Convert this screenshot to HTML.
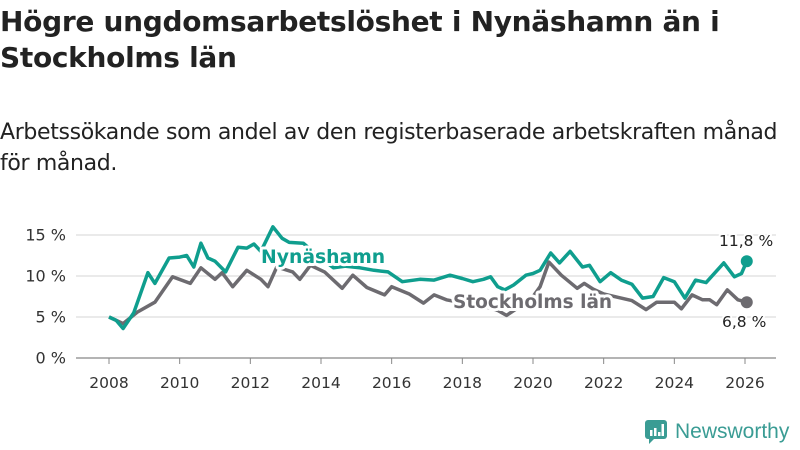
<!DOCTYPE html>
<html><head><meta charset="utf-8"><style>
body{margin:0;width:800px;height:450px;background:#fff;font-family:"DejaVu Sans","Liberation Sans",sans-serif;color:#222;overflow:hidden;position:relative}
h1{position:absolute;left:0;top:4px;margin:0;font-size:28px;line-height:36px;font-weight:bold;letter-spacing:-0.3px;white-space:nowrap}
p{position:absolute;left:0;top:117px;margin:0;font-size:22px;line-height:31px;letter-spacing:-0.35px;white-space:nowrap}
svg{position:absolute;left:0;top:0}
</style></head><body>
<h1>Högre ungdomsarbetslöshet i Nynäshamn än i<br>Stockholms län</h1>
<p>Arbetssökande som andel av den registerbaserade arbetskraften månad<br>för månad.</p>
<svg id="chart" width="800" height="450"></svg>
<div style="position:absolute;left:645px;top:420px;display:flex;align-items:center">
<svg width="22" height="24" style="position:static"><rect x="0" y="0" width="22" height="19" rx="3" fill="#3a9c94"/><path d="M4 19 L4 24 L9 19Z" fill="#3a9c94"/><rect x="5" y="10" width="2.5" height="6" fill="#fff"/><rect x="9" y="8" width="2.5" height="8" fill="#fff"/><rect x="13" y="12" width="2.5" height="4" fill="#fff"/><rect x="16.5" y="4" width="2.5" height="12" fill="#fff"/></svg>
<span style="margin-left:8px;font-size:21px;color:#3a9c94;font-family:'Liberation Sans',sans-serif">Newsworthy</span></div>
<script>
const yTicks=[0,5,10,15];
const xTicks=[2008,2010,2012,2014,2016,2018,2020,2022,2024,2026];
const nynYears=[2008.0,2008.2,2008.4,2008.7,2009.1,2009.3,2009.7,2010.0,2010.2,2010.4,2010.6,2010.8,2011.0,2011.3,2011.65,2011.9,2012.1,2012.3,2012.64,2012.9,2013.1,2013.5,2013.9,2014.35,2014.7,2015.1,2015.5,2015.9,2016.3,2016.8,2017.2,2017.65,2018.0,2018.3,2018.6,2018.8,2019.0,2019.2,2019.45,2019.8,2020.0,2020.2,2020.5,2020.75,2021.05,2021.4,2021.6,2021.9,2022.2,2022.5,2022.8,2023.1,2023.4,2023.7,2024.0,2024.3,2024.6,2024.9,2025.15,2025.4,2025.7,2025.9,2026.05];
const nynValues=[5.0,4.6,3.6,5.5,10.4,9.1,12.2,12.3,12.5,11.1,14.0,12.2,11.8,10.5,13.5,13.4,13.9,13.0,16.0,14.6,14.1,14.0,12.5,11.0,11.2,11.0,10.7,10.5,9.3,9.6,9.5,10.1,9.7,9.3,9.6,9.9,8.7,8.3,8.9,10.1,10.3,10.7,12.8,11.6,13.0,11.1,11.3,9.3,10.4,9.5,9.0,7.3,7.5,9.8,9.3,7.3,9.5,9.2,10.4,11.6,9.9,10.3,11.8];
const stoYears=[2008.0,2008.4,2008.8,2009.3,2009.8,2010.3,2010.6,2011.0,2011.2,2011.5,2011.9,2012.3,2012.5,2012.75,2013.2,2013.4,2013.7,2014.1,2014.6,2014.9,2015.3,2015.8,2016.0,2016.5,2016.9,2017.2,2017.55,2017.9,2018.3,2018.7,2019.0,2019.25,2019.6,2020.0,2020.2,2020.45,2020.8,2021.25,2021.45,2021.7,2022.0,2022.4,2022.8,2023.2,2023.5,2024.0,2024.2,2024.5,2024.8,2025.0,2025.2,2025.5,2025.8,2026.05];
const stoValues=[5.0,4.2,5.6,6.8,9.9,9.1,11.0,9.6,10.4,8.7,10.7,9.6,8.7,11.1,10.5,9.6,11.3,10.5,8.5,10.1,8.6,7.7,8.7,7.8,6.7,7.7,7.1,6.8,6.5,6.2,5.8,5.2,6.2,7.5,8.7,11.7,10.1,8.5,9.1,8.4,7.8,7.4,7.0,5.9,6.8,6.8,6.0,7.7,7.1,7.1,6.5,8.3,7.1,6.8];
const ns="http://www.w3.org/2000/svg",svg=document.getElementById('chart');
const X=v=>109+(v-2008)*(636/18), Y=v=>358-v*8.2;
function el(t,a,p){const e=document.createElementNS(ns,t);for(const k in a)e.setAttribute(k,a[k]);(p||svg).appendChild(e);return e;}
yTicks.forEach(t=>{
 const g=el('line',{x1:76,x2:776,y1:Y(t),y2:Y(t),stroke:t?'#ddd':'#888','stroke-width':1.3});
 
 
 const tx=el('text',{x:66,y:Y(t)+5.5,'text-anchor':'end','font-size':16,fill:'#333','font-family':'DejaVu Sans,sans-serif'});
 tx.textContent=t+' %';
 
 
});
xTicks.forEach(t=>{
 const l=el('line',{x1:X(t),x2:X(t),y1:358,y2:364,stroke:'#888'});
 
 
 const tx=el('text',{x:X(t),y:388,'text-anchor':'middle','font-size':15.5,fill:'#333','font-family':'DejaVu Sans,sans-serif'});
 tx.textContent=t;
 
 
});
function series(ys,vs,col,name){
 const d=ys.map((y,i)=>(i?'L':'M')+X(y).toFixed(1)+' '+Y(vs[i]).toFixed(1)).join(' ');
 const p=el('path',{d:d,fill:'none',stroke:col,'stroke-width':3.5,'stroke-linejoin':'round'});
 
 
 const n=ys.length-1;
 const c=el('circle',{cx:X(ys[n]),cy:Y(vs[n]),r:6,fill:col});
 
 
}
series(stoYears,stoValues,'#6d6b70','stockholm');
series(nynYears,nynValues,'#0f9e8e','nynashamn');
function lab(x,y,txt,col,name,sz,bold){
 const t=el('text',{x:x,y:y,'font-size':sz,fill:col,'font-weight':bold?'bold':'normal',stroke:'#fff','stroke-width':bold?6:4,'paint-order':'stroke','stroke-linejoin':'round','font-family':'DejaVu Sans,sans-serif'});
 t.textContent=txt;
 
 
}
lab(261,263,'Nynäshamn','#0f9e8e','nynashamn-label',18.8,true);
lab(453,308,'Stockholms län','#6d6b70','stockholm-label',18.5,true);
lab(719,246,'11,8 %','#222','nynashamn-end-value',15.5,false);
lab(722,327,'6,8 %','#222','stockholm-end-value',15.5,false);
</script>
</body></html>
